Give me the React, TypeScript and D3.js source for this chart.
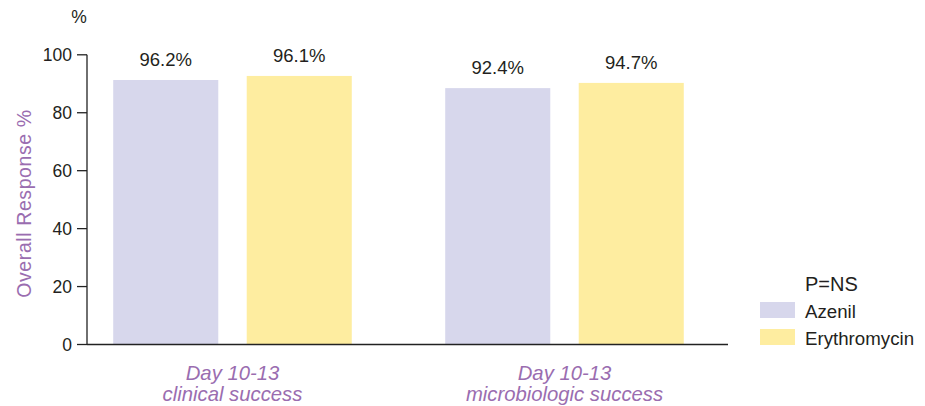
import React from "react";
import * as d3 from "d3";

const categories = ["Day 10-13|clinical success", "Day 10-13|microbiologic success"];
const seriesNames = ["Azenil", "Erythromycin"];
const azenilValues = [91.3, 88.5];
const erythromycinValues = [92.7, 90.3];
const azenilLabels = ["96.2%", "92.4%"];
const erythromycinLabels = ["96.1%", "94.7%"];
const yTicks = [0, 20, 40, 60, 80, 100];
const colors = ["#d7d7ec", "#feeda0"];

const W = 925;
const H = 406;
const FONT = "'Liberation Sans', Arial, Helvetica, sans-serif";
const TEXT = "#231f20";
const PURPLE = "#9a6db0";

export default function App() {
  const y = d3.scaleLinear().domain([0, 100]).range([344.5, 54.8]);
  const x0 = d3.scaleBand<string>().domain(categories).range([66.5, 730.5]).padding(0);
  const x1 = d3
    .scaleBand<string>()
    .domain(seriesNames)
    .range([0, x0.bandwidth()])
    .paddingInner(0.213)
    .paddingOuter(0.35);
  const values = [azenilValues, erythromycinValues];
  const labels = [azenilLabels, erythromycinLabels];
  const axisX = 87;
  const axisEnd = 728;

  return (
    <svg width={W} height={H} style={{ position: "absolute", left: 0, top: 0 }} fontFamily={FONT}>
      <rect width={W} height={H} fill="#fff" />
      {categories.map((c, ci) =>
        seriesNames.map((s, si) => {
          const v = values[si][ci];
          const bx = (x0(c) as number) + (x1(s) as number);
          return (
            <g key={c + s}>
              <rect x={bx} y={y(v)} width={x1.bandwidth()} height={y(0) - y(v)} fill={colors[si]} />
              <text
                x={bx + x1.bandwidth() / 2}
                y={y(v) - 14}
                textAnchor="middle"
                fontSize={18.5}
                fill={TEXT}
              >
                {labels[si][ci]}
              </text>
            </g>
          );
        })
      )}
      <line x1={axisX} x2={axisX} y1={y(100)} y2={y(0)} stroke="#222" strokeWidth={1.3} />
      {yTicks.map((t) => (
        <g key={t}>
          <line x1={axisX - 10} x2={axisX} y1={y(t)} y2={y(t)} stroke="#222" strokeWidth={1.3} />
          <text x={axisX - 15} y={y(t)} dy="0.36em" textAnchor="end" fontSize={17.5} fill={TEXT}>
            {t}
          </text>
        </g>
      ))}
      <text x={79} y={23} textAnchor="middle" fontSize={17.5} fill={TEXT}>
        %
      </text>
      <line x1={axisX} x2={axisEnd} y1={y(0)} y2={y(0)} stroke="#222" strokeWidth={1.3} />
      {categories.map((c) => {
        const [l1, l2] = c.split("|");
        const cx = (x0(c) as number) + x0.bandwidth() / 2;
        return (
          <text key={c} x={cx} textAnchor="middle" fontSize={20.3} fontStyle="italic" fill={PURPLE}>
            <tspan x={cx} y={380}>
              {l1}
            </tspan>
            <tspan x={cx} y={401}>
              {l2}
            </tspan>
          </text>
        );
      })}
      <text
        transform="translate(31,203.5) rotate(-90)"
        textAnchor="middle"
        fontSize={19.5}
        letterSpacing={0.6}
        fill={PURPLE}
      >
        Overall Response %
      </text>
      <text x={805} y={291} fontSize={20} fill={TEXT}>
        P=NS
      </text>
      {seriesNames.map((s, i) => (
        <g key={s}>
          <rect x={760} y={302 + i * 27} width={35} height={16} fill={colors[i]} />
          <text x={805} y={318 + i * 27} fontSize={18.7} fill={TEXT}>
            {s}
          </text>
        </g>
      ))}
    </svg>
  );
}
